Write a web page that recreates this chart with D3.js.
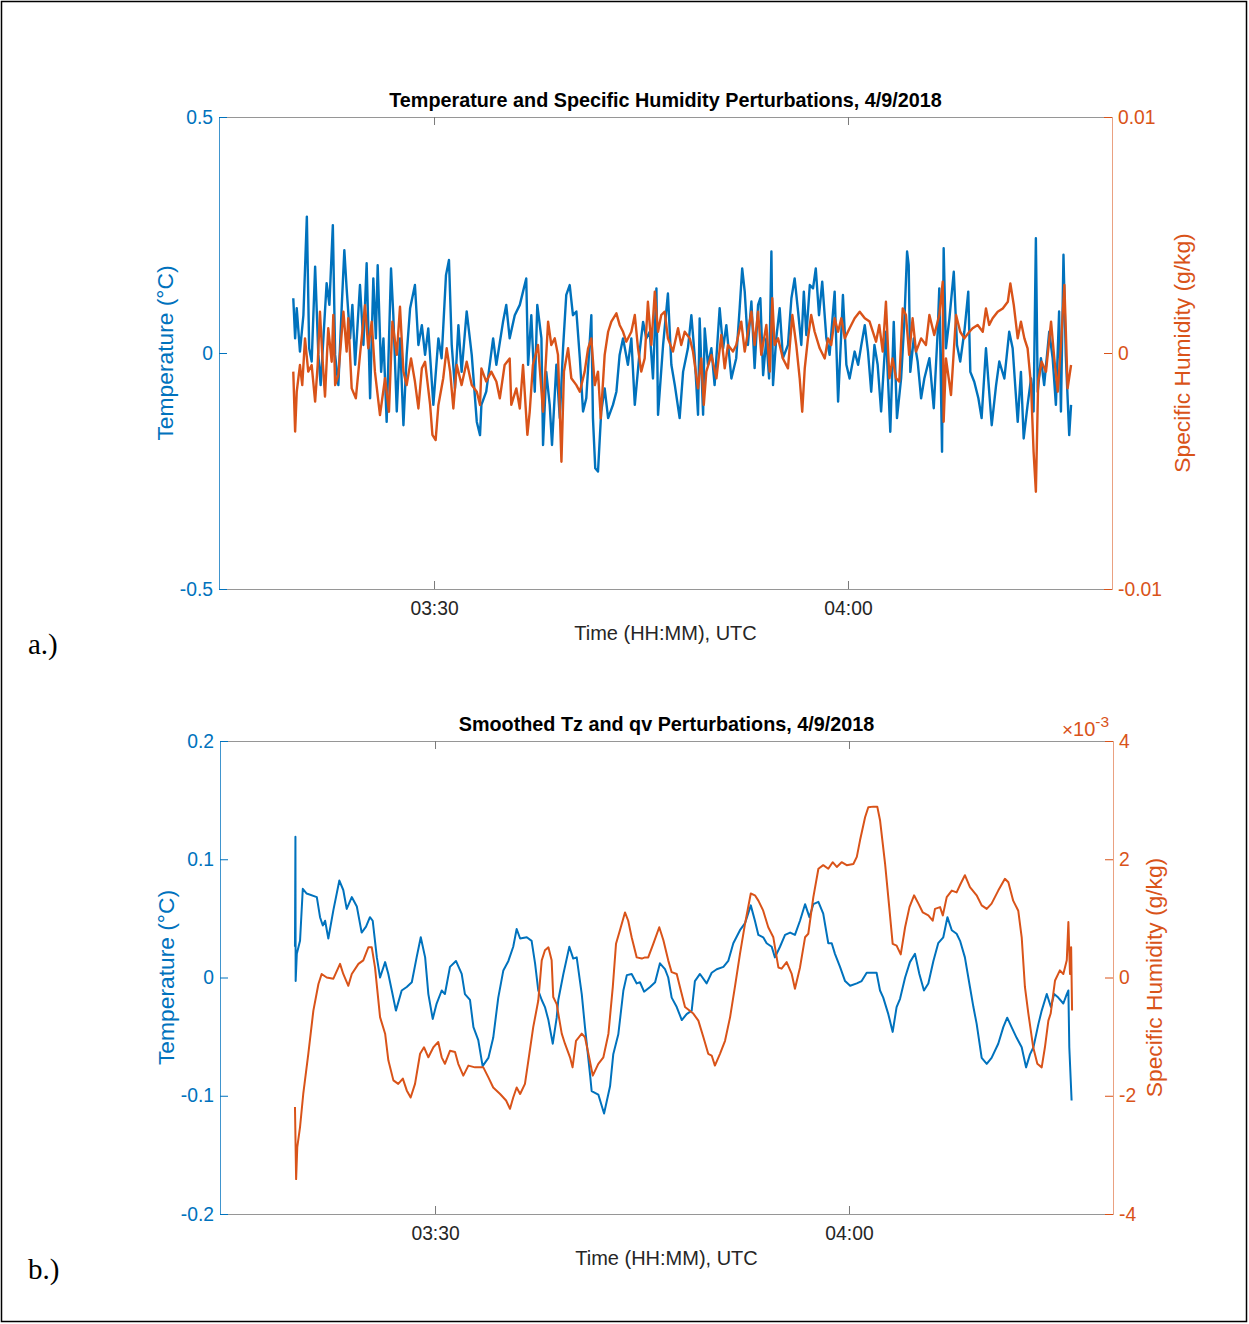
<!DOCTYPE html>
<html lang="en">
<head>
<meta charset="UTF-8">
<title>Temperature and Specific Humidity Perturbations, 4/9/2018</title>
<script src="https://d3js.org/d3.v7.min.js"></script>
<style>
  body { margin: 0; background: #fff; }
  svg { display: block; }
  .tick text { font-family: "Liberation Sans", Arial, Helvetica, sans-serif; font-size: 19.3px; }
  .title { font-family: "Liberation Sans", Arial, sans-serif; font-size: 19.8px; font-weight: bold; fill: #000; }
  .xlabel { font-family: "Liberation Sans", Arial, sans-serif; font-size: 20px; fill: #262626; }
  .ylabel { font-family: "Liberation Sans", Arial, sans-serif; font-size: 22.8px; }
  .panel-tag { font-family: "Liberation Serif", "Times New Roman", serif; font-size: 29px; fill: #000; }
</style>
</head>
<body>
<svg id="chart" width="1249" height="1324"></svg>
<script>
// times: seconds after 03:00:00 UTC, 4/9/2018
// humidity values in units of 1e-3 g/kg

// panel a: raw perturbations
const rawTemp = [
  [1188,0.116],[1196,0.031],[1203,0.095],[1217,0.003],[1232,0.08],[1247,0.289],[1257,0.01],[1268,-0.018],[1283,0.183],[1297,-0.004],
  [1307,-0.068],[1333,0.148],[1345,0.102],[1360,0.271],[1370,-0.004],[1384,-0.068],[1399,0.102],[1410,0.218],[1420,0.137],[1435,0.031],
  [1445,0.102],[1457,-0.025],[1478,0.144],[1493,0.017],[1507,0.19],[1522,-0.096],[1536,0.158],[1547,0.031],[1555,0.186],[1570,-0.04],
  [1580,0.031],[1594,-0.146],[1613,0.179],[1623,0.08],[1638,-0.124],[1652,0.031],[1667,-0.153],[1681,-0.004],[1696,0.095],[1717,0.144],
  [1732,0.017],[1747,0.059],[1761,-0.004],[1775,0.052],[1797,-0.11],[1819,0.031],[1833,-0.011],[1852,0.165],[1865,0.197],[1877,0.017],
  [1891,-0.075],[1906,0.059],[1920,-0.04],[1942,0.088],[1964,-0.004],[1986,-0.146],[2000,-0.174],[2006,-0.11],[2027,-0.082],[2057,0.031],
  [2071,-0.025],[2100,0.066],[2114,0.102],[2129,0.031],[2151,0.08],[2173,0.102],[2187,0.13],[2201,0.158],[2209,-0.025],[2223,0.08],
  [2238,-0.082],[2249,0.102],[2267,0.031],[2274,-0.195],[2288,-0.04],[2303,-0.11],[2313,-0.195],[2332,-0.025],[2347,-0.138],[2361,0.01],
  [2375,0.123],[2390,0.144],[2404,0.08],[2419,0.088],[2434,-0.011],[2448,-0.124],[2462,-0.096],[2484,0.08],[2491,-0.138],[2501,-0.244],
  [2513,-0.251],[2527,-0.124],[2542,-0.075],[2557,-0.138],[2578,-0.11],[2593,-0.082],[2607,-0.004],[2622,0.031],[2643,-0.025],[2658,0.031],
  [2673,-0.11],[2694,0.003],[2709,0.066],[2723,0.031],[2738,0.045],[2752,-0.054],[2767,0.137],[2774,-0.131],[2796,0.017],[2817,0.126],
  [2832,-0.025],[2847,-0.068],[2868,-0.138],[2883,-0.04],[2904,0.01],[2919,0.08],[2933,-0.004],[2948,-0.131],[2955,0.073],[2970,-0.131],
  [2977,0.052],[2991,-0.025],[3006,0.01],[3020,-0.068],[3042,0.095],[3057,0.01],[3071,0.059],[3093,-0.054],[3114,-0.011],[3129,0.095],
  [3140,0.179],[3151,0.13],[3165,0.017],[3180,0.109],[3194,-0.032],[3209,0.102],[3219,0.116],[3231,-0.047],[3245,0.031],[3257,-0.054],
  [3267,0.215],[3274,-0.068],[3288,0.031],[3303,0.095],[3317,-0.011],[3339,0.017],[3354,0.116],[3368,0.158],[3383,0.088],[3397,0.017],
  [3408,0.13],[3419,0.038],[3434,0.144],[3448,0.137],[3460,0.179],[3474,0.08],[3488,0.151],[3506,0.031],[3520,-0.004],[3542,0.13],
  [3557,-0.103],[3571,0.045],[3578,0.123],[3593,-0.025],[3607,-0.054],[3629,0.003],[3644,-0.025],[3658,0.017],[3673,0.059],[3687,0.003],
  [3701,-0.082],[3715,0.017],[3729,-0.025],[3744,-0.124],[3765,0.045],[3784,-0.167],[3799,0.066],[3813,-0.138],[3831,-0.054],[3845,0.066],
  [3857,0.215],[3864,0.186],[3871,-0.04],[3886,0.031],[3903,-0.018],[3918,-0.096],[3932,-0.054],[3954,-0.011],[3973,-0.117],[3990,0.045],
  [3997,0.137],[4009,-0.209],[4016,0.222],[4026,0.01],[4041,0.073],[4060,0.172],[4074,0.017],[4088,-0.018],[4106,0.045],[4123,0.13],
  [4132,-0.04],[4149,-0.061],[4167,-0.096],[4181,-0.138],[4200,0.01],[4214,-0.082],[4225,-0.153],[4244,-0.068],[4258,-0.018],[4280,-0.054],
  [4301,0.045],[4316,0.01],[4338,-0.146],[4352,-0.04],[4364,-0.181],[4381,-0.11],[4396,-0.054],[4407,-0.124],[4417,0.243],[4425,-0.082],
  [4439,-0.011],[4453,-0.068],[4475,0.045],[4490,-0.011],[4504,-0.11],[4518,0.088],[4526,-0.124],[4537,0.208],[4547,-0.004],[4562,-0.174],
  [4570,-0.11]
];

const rawHum = [
  [1188,-0.79],[1196,-3.33],[1203,-1.64],[1217,-0.51],[1227,-1.36],[1239,0.62],[1253,-0.79],[1268,-0.51],[1283,-2.06],[1294,-0.51],
  [1304,1.75],[1314,-0.08],[1326,-1.85],[1340,1.05],[1355,-0.37],[1362,1.61],[1370,-1.36],[1384,-0.93],[1406,1.75],[1420,0.06],
  [1427,1.47],[1442,-1.5],[1460,-1.92],[1478,-0.08],[1500,2.03],[1514,0.2],[1529,1.33],[1543,-0.79],[1565,-2.63],[1587,-1.07],
  [1604,-2.49],[1619,1.33],[1638,-0.08],[1652,1.96],[1667,-0.79],[1681,-1.36],[1700,-0.23],[1717,-1.21],[1732,-2.35],[1747,-0.65],
  [1761,-0.37],[1783,-2.2],[1793,-3.47],[1807,-3.69],[1819,-2.2],[1840,-1.07],[1855,0.2],[1870,-0.79],[1884,-2.35],[1899,-0.51],
  [1920,-1.36],[1942,-0.37],[1964,-1.36],[1986,-1.64],[2000,-2.2],[2006,-0.65],[2027,-1.21],[2049,-0.79],[2071,-1.21],[2086,-1.92],
  [2107,-0.51],[2129,-0.23],[2136,-2.2],[2158,-1.5],[2173,-2.35],[2187,-0.51],[2206,-3.47],[2216,-2.49],[2230,-0.51],[2252,0.34],
  [2274,-2.49],[2296,1.33],[2310,0.34],[2325,0.62],[2339,-0.08],[2354,-4.61],[2365,-0.79],[2383,0.2],[2397,-1.07],[2419,-1.36],
  [2434,-1.64],[2455,-0.79],[2470,0.2],[2484,0.62],[2499,-1.36],[2513,-0.79],[2525,-2.77],[2542,-0.08],[2557,0.9],[2571,1.33],
  [2593,1.68],[2607,1.19],[2622,0.9],[2636,0.48],[2658,0.9],[2673,1.61],[2687,0.2],[2701,-0.79],[2716,-0.23],[2730,2.17],
  [2745,0.34],[2760,2.6],[2774,0.9],[2788,1.61],[2803,1.75],[2817,0.62],[2839,0.06],[2861,1.05],[2875,0.34],[2890,0.9],
  [2912,0.62],[2926,0.06],[2948,-1.5],[2962,-0.23],[2973,-2.2],[2984,-0.79],[3006,-0.08],[3028,-1.07],[3049,0.76],[3064,-0.65],
  [3078,0.34],[3100,0.06],[3114,0.34],[3136,1.33],[3151,0.06],[3165,0.9],[3180,1.75],[3194,0.34],[3209,1.75],[3223,-0.08],
  [3245,1.19],[3260,-0.79],[3271,2.32],[3281,0.34],[3296,0.62],[3317,-0.23],[3339,-0.65],[3358,1.61],[3375,0.34],[3390,-1.07],
  [3401,-2.49],[3412,-0.65],[3426,0.62],[3440,1.61],[3455,0.9],[3477,0.2],[3499,-0.23],[3513,0.62],[3527,0.34],[3542,1.47],
  [3557,0.9],[3571,1.47],[3586,0.62],[3607,1.05],[3629,1.47],[3651,1.75],[3673,1.47],[3694,1.33],[3722,0.48],[3736,1.19],
  [3751,0.06],[3765,2.17],[3780,-1.07],[3794,-0.23],[3809,-1.07],[3823,-1.21],[3838,1.89],[3852,1.61],[3866,-0.08],[3881,1.47],
  [3896,0.06],[3918,0.62],[3939,0.34],[3954,1.61],[3975,0.76],[3997,1.61],[4012,3.02],[4016,-2.91],[4026,-0.23],[4048,-1.78],
  [4070,1.61],[4088,0.9],[4106,0.62],[4128,0.9],[4142,1.05],[4164,1.19],[4186,0.9],[4200,1.89],[4214,1.19],[4229,1.47],
  [4251,1.75],[4273,1.89],[4295,2.17],[4306,2.95],[4321,2.03],[4338,0.62],[4352,1.33],[4367,0.62],[4381,0.2],[4396,-1.36],
  [4407,-4.18],[4417,-5.88],[4427,-1.21],[4442,-0.37],[4461,-0.79],[4483,1.33],[4497,-0.23],[4512,-1.64],[4526,0.34],[4541,2.88],
  [4555,-1.5],[4570,-0.51]
];

// panel b: smoothed perturbations
const smoothTemp = [
  [1191,0.026],[1193,0.119],[1194,-0.003],[1199,0.02],[1213,0.031],[1225,0.075],[1242,0.071],[1286,0.068],[1300,0.051],[1312,0.044],
  [1322,0.048],[1336,0.033],[1358,0.057],[1384,0.082],[1401,0.074],[1416,0.058],[1438,0.068],[1460,0.06],[1481,0.038],[1500,0.043],
  [1517,0.051],[1529,0.048],[1547,0.017],[1561,0],[1583,0.013],[1597,0.003],[1612,-0.011],[1630,-0.028],[1655,-0.011],[1677,-0.008],
  [1699,-0.004],[1720,0.017],[1738,0.034],[1757,0.017],[1771,-0.014],[1790,-0.035],[1807,-0.022],[1829,-0.011],[1843,-0.014],[1865,0.009],
  [1891,0.014],[1916,0.003],[1930,-0.014],[1952,-0.019],[1967,-0.042],[1988,-0.053],[2007,-0.075],[2032,-0.068],[2053,-0.051],[2075,-0.017],
  [2097,0.006],[2119,0.014],[2140,0.026],[2155,0.041],[2170,0.033],[2199,0.034],[2220,0.031],[2235,0.012],[2249,-0.011],[2264,-0.019],
  [2278,-0.025],[2293,-0.036],[2312,-0.056],[2329,-0.034],[2336,-0.019],[2358,0.003],[2384,0.026],[2401,0.016],[2416,0.017],[2438,-0.014],
  [2452,-0.042],[2474,-0.082],[2481,-0.096],[2510,-0.099],[2535,-0.115],[2561,-0.092],[2575,-0.065],[2597,-0.048],[2619,-0.011],[2634,0.002],
  [2655,0.003],[2677,-0.005],[2691,-0.004],[2709,-0.012],[2735,-0.008],[2757,-0.004],[2778,0.012],[2800,0.007],[2814,0],[2829,-0.017],
  [2851,-0.025],[2873,-0.036],[2894,-0.031],[2916,-0.028],[2930,-0.003],[2952,0.003],[2981,-0.005],[3003,0.004],[3025,0.007],[3054,0.009],
  [3075,0.014],[3097,0.029],[3126,0.04],[3148,0.046],[3173,0.061],[3191,0.048],[3206,0.036],[3227,0.034],[3242,0.029],[3264,0.026],
  [3278,0.017],[3300,0.026],[3322,0.036],[3344,0.038],[3365,0.036],[3387,0.048],[3409,0.062],[3428,0.051],[3445,0.062],[3467,0.064],
  [3488,0.054],[3510,0.029],[3525,0.029],[3539,0.02],[3561,0.009],[3583,-0.003],[3605,-0.007],[3634,-0.005],[3655,-0.003],[3677,0.004],
  [3699,0.004],[3720,0.004],[3735,-0.011],[3749,-0.017],[3771,-0.031],[3790,-0.046],[3807,-0.025],[3822,-0.018],[3844,0],[3865,0.013],
  [3887,0.02],[3906,0.003],[3926,-0.011],[3945,-0.005],[3967,0.014],[3988,0.029],[4010,0.034],[4028,0.051],[4047,0.04],[4068,0.037],
  [4083,0.031],[4104,0.017],[4126,-0.008],[4141,-0.025],[4155,-0.039],[4177,-0.068],[4199,-0.073],[4220,-0.068],[4249,-0.056],[4271,-0.042],
  [4288,-0.034],[4307,-0.042],[4329,-0.051],[4351,-0.059],[4370,-0.076],[4387,-0.065],[4402,-0.059],[4424,-0.039],[4438,-0.028],[4460,-0.014],
  [4478,-0.025],[4492,-0.014],[4510,-0.017],[4532,-0.022],[4547,-0.014],[4554,-0.011],[4558,-0.059],[4568,-0.104]
];

const smoothHum = [
  [1191,-2.19],[1196,-3.41],[1201,-2.87],[1213,-2.53],[1227,-1.97],[1249,-1.29],[1271,-0.56],[1293,-0.11],[1307,0.06],[1329,0],
  [1358,-0.02],[1387,0.23],[1401,0.06],[1423,-0.14],[1438,0.06],[1467,0.23],[1488,0.29],[1510,0.51],[1525,0.51],[1539,0.17],
  [1561,-0.67],[1583,-0.95],[1597,-1.4],[1619,-1.74],[1640,-1.8],[1660,-1.71],[1677,-1.91],[1694,-2.03],[1713,-1.8],[1735,-1.29],
  [1752,-1.18],[1771,-1.35],[1793,-1.18],[1814,-1.09],[1829,-1.35],[1843,-1.46],[1865,-1.24],[1887,-1.26],[1901,-1.46],[1923,-1.66],
  [1945,-1.49],[1974,-1.52],[2010,-1.52],[2032,-1.69],[2053,-1.86],[2083,-1.97],[2109,-2.08],[2126,-2.22],[2140,-2.03],[2155,-1.86],
  [2170,-1.97],[2191,-1.8],[2206,-1.4],[2227,-0.84],[2249,-0.39],[2264,0.29],[2278,0.46],[2293,0.51],[2307,0.29],[2314,-0.33],
  [2329,-0.45],[2351,-0.95],[2365,-1.12],[2387,-1.35],[2398,-1.52],[2413,-1.07],[2438,-0.95],[2452,-1.01],[2467,-1.29],[2486,-1.66],
  [2510,-1.46],[2532,-1.35],[2554,-0.95],[2573,-0.16],[2587,0.57],[2604,0.8],[2626,1.1],[2640,0.96],[2655,0.68],[2677,0.34],
  [2699,0.32],[2713,0.34],[2727,0.34],[2749,0.57],[2775,0.85],[2793,0.63],[2814,0.29],[2829,0.09],[2851,0.06],[2865,-0.16],
  [2887,-0.5],[2923,-0.61],[2945,-0.73],[2967,-1.01],[2988,-1.29],[3003,-1.32],[3017,-1.49],[3039,-1.29],[3061,-1.07],[3083,-0.67],
  [3104,-0.16],[3126,0.4],[3148,0.91],[3173,1.42],[3191,1.39],[3206,1.3],[3227,1.13],[3249,0.85],[3271,0.68],[3293,0.17],
  [3307,0.15],[3329,0.26],[3351,0.06],[3365,-0.19],[3387,0.17],[3409,0.68],[3423,0.74],[3445,1.36],[3467,1.84],[3488,1.9],
  [3510,1.84],[3529,1.95],[3547,1.87],[3568,1.95],[3590,1.9],[3619,1.92],[3634,2.04],[3648,2.32],[3670,2.71],[3684,2.88],
  [3706,2.89],[3723,2.89],[3735,2.66],[3757,1.92],[3775,1.19],[3790,0.57],[3807,0.54],[3825,0.39],[3844,0.85],[3863,1.19],
  [3883,1.39],[3902,1.25],[3921,1.1],[3945,1.05],[3964,0.96],[3974,1.16],[3996,1.19],[4008,1.05],[4025,1.36],[4047,1.47],
  [4068,1.44],[4086,1.59],[4104,1.73],[4126,1.53],[4155,1.39],[4177,1.22],[4199,1.16],[4220,1.25],[4249,1.47],[4278,1.67],
  [4293,1.61],[4314,1.3],[4336,1.13],[4351,0.68],[4365,-0.16],[4380,-0.61],[4401,-1.18],[4419,-1.46],[4438,-1.52],[4452,-1.18],
  [4467,-0.73],[4477,-0.61],[4496,-0.05],[4517,0.12],[4532,0.06],[4547,0.29],[4554,0.94],[4561,0.06],[4566,0.51],[4570,-0.56]
];

// axes
const timeDomain = [865, 4748];
const timeTicks = [1800, 3600];
const timeTickLabels = ["03:30", "04:00"];

const tempTicksA = [-0.5, 0, 0.5];
const tempLabelsA = ["-0.5", "0", "0.5"];
const humTicksA = [-10, 0, 10];
const humLabelsA = ["-0.01", "0", "0.01"];

const tempTicksB = [-0.2, -0.1, 0, 0.1, 0.2];
const tempLabelsB = ["-0.2", "-0.1", "0", "0.1", "0.2"];
const humTicksB = [-4, -2, 0, 2, 4];
const humLabelsB = ["-4", "-2", "0", "2", "4"];

const blue = "#0072BD";
const orange = "#D95319";
const t0 = Date.UTC(2018, 3, 9, 3, 0, 0);
const toDate = s => new Date(t0 + s * 1000);

const svg = d3.select("#chart");

// outer frame
svg.append("rect")
   .attr("x", 1.5).attr("y", 1.5)
   .attr("width", 1245).attr("height", 1320)
   .attr("fill", "none").attr("stroke", "#000").attr("stroke-width", 1.5);

function drawPanel(p) {
  const g = svg.append("g");
  const x = d3.scaleUtc()
              .domain(timeDomain.map(toDate))
              .range([p.left, p.left + p.width]);
  const yL = d3.scaleLinear().domain(p.tempDomain).range([p.top + p.height, p.top]);
  const yR = d3.scaleLinear().domain(p.humDomain).range([p.top + p.height, p.top]);

  const lineL = d3.line().x(d => x(toDate(d[0]))).y(d => yL(d[1]));
  const lineR = d3.line().x(d => x(toDate(d[0]))).y(d => yR(d[1]));

  g.append("path").datum(p.temp)
   .attr("d", lineL).attr("fill", "none")
   .attr("stroke", blue).attr("stroke-width", p.lineWidth).attr("stroke-linejoin", "round");
  g.append("path").datum(p.hum)
   .attr("d", lineR).attr("fill", "none")
   .attr("stroke", orange).attr("stroke-width", p.lineWidth).attr("stroke-linejoin", "round");

  const tickDates = timeTicks.map(toDate);

  // bottom x axis
  const xb = g.append("g")
     .attr("transform", `translate(0,${p.top + p.height})`)
     .call(d3.axisBottom(x).tickValues(tickDates)
             .tickFormat((d, i) => timeTickLabels[i])
             .tickSizeInner(-8).tickSizeOuter(0).tickPadding(12));
  // top border with ticks
  const xt = g.append("g")
     .attr("transform", `translate(0,${p.top})`)
     .call(d3.axisTop(x).tickValues(tickDates).tickFormat("")
             .tickSizeInner(-8).tickSizeOuter(0));
  [xb, xt].forEach(a => {
    a.attr("font-size", null).attr("font-family", null).attr("color", "#262626");
    a.select(".domain").attr("stroke", "#969696");
    a.selectAll(".tick line").attr("stroke", "#7a7a7a");
  });

  // left axis (temperature)
  g.append("g")
   .attr("transform", `translate(${p.left},0)`)
   .call(d3.axisLeft(yL).tickValues(p.tempTicks)
           .tickFormat((d, i) => p.tempLabels[i])
           .tickSizeInner(-8).tickSizeOuter(0).tickPadding(6))
   .attr("font-size", null).attr("font-family", null).attr("color", blue)
   .call(a => a.select(".domain").attr("stroke-opacity", 0.75));

  // right axis (humidity)
  g.append("g")
   .attr("transform", `translate(${p.left + p.width},0)`)
   .call(d3.axisRight(yR).tickValues(p.humTicks)
           .tickFormat((d, i) => p.humLabels[i])
           .tickSizeInner(-8).tickSizeOuter(0).tickPadding(6))
   .attr("font-size", null).attr("font-family", null).attr("color", orange)
   .call(a => a.select(".domain").attr("stroke-opacity", 0.55));

  // title
  g.append("text").attr("class", "title")
   .attr("x", p.left + p.width / 2).attr("y", p.top - 10)
   .attr("text-anchor", "middle")
   .text(p.title);

  // x label
  g.append("text").attr("class", "xlabel")
   .attr("x", p.left + p.width / 2).attr("y", p.top + p.height + 51)
   .attr("text-anchor", "middle")
   .text("Time (HH:MM), UTC");

  // y labels
  g.append("text").attr("class", "ylabel")
   .attr("transform", `translate(${p.left - 46},${p.top + p.height / 2}) rotate(-90)`)
   .attr("text-anchor", "middle").attr("fill", blue)
   .text("Temperature (°C)");
  g.append("text").attr("class", "ylabel")
   .attr("transform", `translate(${p.left + p.width + p.rightLabelOffset},${p.top + p.height / 2}) rotate(-90)`)
   .attr("text-anchor", "middle").attr("fill", orange)
   .text("Specific Humidity (g/kg)");

  if (p.exponent) {
    const e = g.append("text")
       .attr("x", p.left + p.width - 51).attr("y", p.top - 5)
       .attr("fill", orange)
       .style("font-family", "'Liberation Sans', Arial, sans-serif")
       .style("font-size", "20px");
    e.append("tspan").style("font-size", "19px").text("×");
    e.append("tspan").text("10");
    e.append("tspan").attr("dy", -9).style("font-size", "15.5px").text(p.exponent);
  }

  // panel tag
  svg.append("text").attr("class", "panel-tag")
     .attr("x", 28).attr("y", p.top + p.height + 65)
     .text(p.tag);
}

drawPanel({
  left: 219, width: 893, top: 117, height: 472,
  temp: rawTemp, hum: rawHum, lineWidth: 2.4,
  tempDomain: [-0.5, 0.5], humDomain: [-10, 10],
  tempTicks: tempTicksA, tempLabels: tempLabelsA,
  humTicks: humTicksA, humLabels: humLabelsA,
  title: "Temperature and Specific Humidity Perturbations, 4/9/2018",
  rightLabelOffset: 78, tag: "a.)"
});

drawPanel({
  left: 220, width: 893, top: 741, height: 473,
  temp: smoothTemp, hum: smoothHum, lineWidth: 2,
  tempDomain: [-0.2, 0.2], humDomain: [-4, 4],
  tempTicks: tempTicksB, tempLabels: tempLabelsB,
  humTicks: humTicksB, humLabels: humLabelsB,
  title: "Smoothed Tz and qv Perturbations, 4/9/2018",
  rightLabelOffset: 49, tag: "b.)", exponent: "-3"
});
</script>
</body>
</html>
